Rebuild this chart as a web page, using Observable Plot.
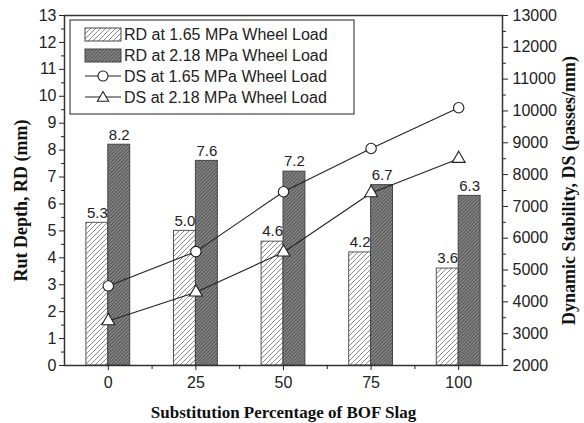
<!DOCTYPE html>
<html><head><meta charset="utf-8">
<script src="https://cdn.jsdelivr.net/npm/d3@7"></script>
<script src="https://cdn.jsdelivr.net/npm/@observablehq/plot@0.6"></script>
<style>
body{margin:0;background:#fff;}
#chart svg{display:block;}
</style></head>
<body><div id="chart"></div>
<script>
const pct = [0, 25, 50, 75, 100];
const rd165 = [5.3, 5.0, 4.6, 4.2, 3.6];
const rd218 = [8.2, 7.6, 7.2, 6.7, 6.3];
const ds165 = [4500, 5580, 7460, 8820, 10100];
const ds218 = [3400, 4300, 5560, 7420, 8500];
const rdTicks = [0,1,2,3,4,5,6,7,8,9,10,11,12,13];
const dsTicks = [2000,3000,4000,5000,6000,7000,8000,9000,10000,11000,12000,13000];
const xTicks = [0, 25, 50, 75, 100];
const legendLabels = ["RD at 1.65 MPa Wheel Load","RD at 2.18 MPa Wheel Load","DS at 1.65 MPa Wheel Load","DS at 2.18 MPa Wheel Load"];

const dsMin = 2000, dsMax = 13000, rdMax = 13;
const dsToY = v => (v - dsMin) * rdMax / (dsMax - dsMin);
const yToDs = y => Math.round(y * (dsMax - dsMin) / rdMax + dsMin);

const rdA = pct.map((p,i)=>({pct:p, v:rd165[i]}));
const rdB = pct.map((p,i)=>({pct:p, v:rd218[i]}));
const dsA = pct.map((p,i)=>({pct:p, v:ds165[i]}));
const dsB = pct.map((p,i)=>({pct:p, v:ds218[i]}));
const bw = 6.25;
const minorX = xTicks.slice(0,-1).map((t,i)=>(t+xTicks[i+1])/2);
const minorRd = rdTicks.slice(0,-1).map(t=>t+0.5);
const minorDs = dsTicks.slice(0,-1).map(t=>dsToY(t+500));

const sans = "Liberation Sans, Arial, sans-serif";
const tickFont = {fontSize: 16, fontFamily: sans};

const chart = Plot.plot({
  width: 584, height: 423,
  marginLeft: 64, marginRight: 82, marginTop: 15, marginBottom: 58,
  x: {type: "linear", domain: [-12.5, 112.5]},
  y: {domain: [0, 13]},
  style: {color: "#222", background: "#fff"},
  marks: [
    Plot.rectY(rdA, {x1: d => d.pct - bw, x2: d => d.pct, y1: 0, y2: "v", fill: "url(#hatchLight)", stroke: "#555", strokeWidth: 1}),
    Plot.rectY(rdB, {x1: d => d.pct, x2: d => d.pct + bw, y1: 0, y2: "v", fill: "url(#hatchDark)", stroke: "#444", strokeWidth: 1}),
    Plot.text(rdA, {x: d => d.pct - bw/2, y: "v", text: d => d.v.toFixed(1), dy: -10, fontSize: 15, fontFamily: sans, fill: "#222"}),
    Plot.text(rdB, {x: d => d.pct + bw/2, y: "v", text: d => d.v.toFixed(1), dy: -10, fontSize: 15, fontFamily: sans, fill: "#222"}),
    Plot.line(dsA, {x: "pct", y: d => dsToY(d.v), stroke: "#222", strokeWidth: 1.1}),
    Plot.line(dsB, {x: "pct", y: d => dsToY(d.v), stroke: "#222", strokeWidth: 1.1}),
    Plot.dot(dsA, {x: "pct", y: d => dsToY(d.v), symbol: "circle", r: 5.2, fill: "white", stroke: "#222", strokeWidth: 1.1}),
    Plot.dot(dsB, {x: "pct", y: d => dsToY(d.v), symbol: "triangle", r: 4.8, fill: "white", stroke: "#222", strokeWidth: 1.1}),
    Plot.frame({stroke: "#333", strokeWidth: 1.5}),
    Plot.axisX(xTicks, {anchor: "bottom", tickSize: 5, tickPadding: 6, ...tickFont, label: "Substitution Percentage of BOF Slag", labelAnchor: "center", labelArrow: "none", labelOffset: 52}),
    Plot.axisX(minorX, {anchor: "bottom", tickSize: 4, text: null, label: null}),
    Plot.axisY(rdTicks, {anchor: "left", tickSize: 5, tickPadding: 3, ...tickFont, label: "Rut Depth, RD (mm)", labelAnchor: "center", labelArrow: "none", labelOffset: 50}),
    Plot.axisY(minorRd, {anchor: "left", tickSize: 3, text: null, label: null}),
    Plot.axisY(dsTicks.map(dsToY), {anchor: "right", tickSize: 5, tickPadding: 5, ...tickFont, tickFormat: y => String(yToDs(y)), label: "Dynamic Stability, DS (passes/mm)", labelAnchor: "center", labelArrow: "none", labelOffset: 72}),
    Plot.axisY(minorDs, {anchor: "right", tickSize: 3, text: null, label: null})
  ]
});
document.getElementById("chart").appendChild(chart);

const svg = d3.select(chart);
// axis title styling
svg.selectAll('g[aria-label$="axis label"] text, g[aria-label$="axis label"]')
  .attr("font-family", "Liberation Serif, Times New Roman, serif")
  .attr("font-weight", "bold").attr("font-size", 17).attr("fill", "#111");
svg.selectAll('g[aria-label="y-axis label"] text, g[aria-label="y-axis label"]').attr("font-size", 18);
svg.select('g[aria-label="y-axis label"] text').attr("dx", -10);

// hatch patterns
const defs = svg.insert("defs", ":first-child");
const pl = defs.append("pattern").attr("id","hatchLight").attr("patternUnits","userSpaceOnUse").attr("width",5).attr("height",5);
pl.append("rect").attr("width",5).attr("height",5).attr("fill","#fff");
pl.append("path").attr("d","M0,5 L5,0 M-1,1 L1,-1 M4,6 L6,4").attr("stroke","#888").attr("stroke-width",1);
const pd = defs.append("pattern").attr("id","hatchDark").attr("patternUnits","userSpaceOnUse").attr("width",3.5).attr("height",3.5);
pd.append("rect").attr("width",3.5).attr("height",3.5).attr("fill","#8c8c8c");
pd.append("path").attr("d","M0,3.5 L3.5,0 M-1,1 L1,-1 M2.5,4.5 L4.5,2.5").attr("stroke","#444").attr("stroke-width",0.9);

// legend
const lg = svg.append("g").attr("transform","translate(70,20)");
lg.append("rect").attr("width",284).attr("height",94).attr("fill","#fff").attr("stroke","#444").attr("stroke-width",1.2);
const rowY = [14, 35, 56, 77];
legendLabels.forEach((lab,i)=>{
  const g = lg.append("g").attr("transform",`translate(0,${rowY[i]})`);
  if (i < 2) {
    g.append("rect").attr("x",15).attr("y",-6).attr("width",36).attr("height",13)
      .attr("fill", i===0 ? "url(#hatchLight)" : "url(#hatchDark)").attr("stroke","#444");
  } else {
    g.append("line").attr("x1",15).attr("x2",51).attr("stroke","#222").attr("stroke-width",1.1);
    if (i===2) g.append("circle").attr("cx",33).attr("r",5).attr("fill","#fff").attr("stroke","#222").attr("stroke-width",1.1);
    else g.append("path").attr("d",d3.symbol(d3.symbolTriangle, 55)()).attr("transform","translate(33,1)").attr("fill","#fff").attr("stroke","#222").attr("stroke-width",1.1);
  }
  g.append("text").attr("x",54).attr("dy","0.35em").attr("text-anchor","start").attr("font-size",16)
    .attr("font-family",sans).attr("fill","#222").text(lab);
});
</script></body></html>
